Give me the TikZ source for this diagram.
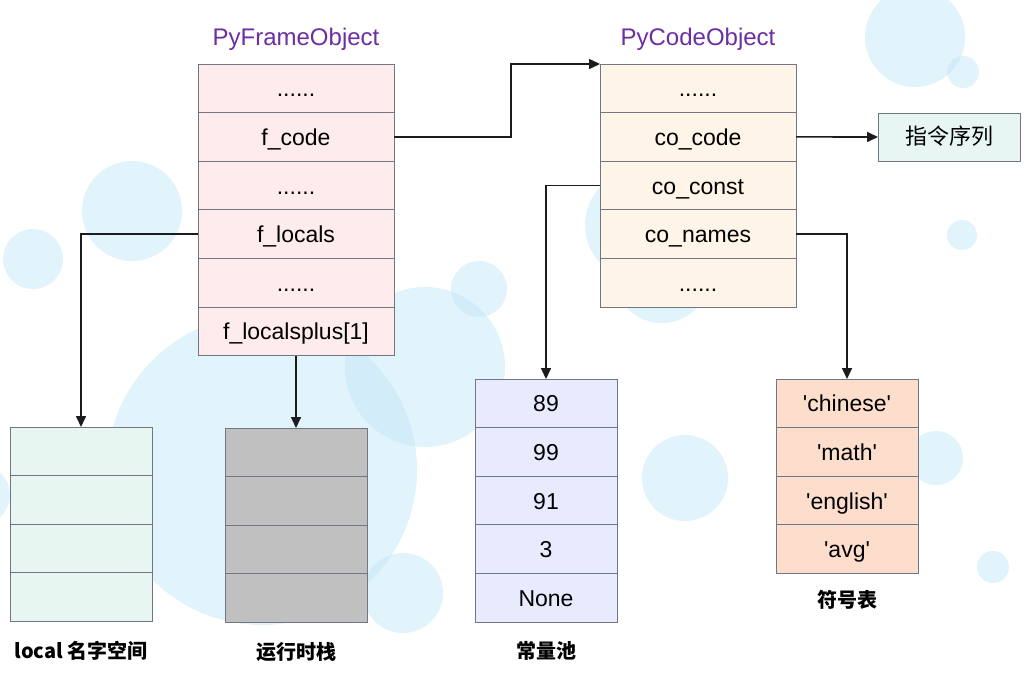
\documentclass[tikz,border=0pt]{standalone}
\usepackage{fontspec}
\usepackage{tikz}
\usetikzlibrary{arrows.meta, positioning}
\newfontfamily\codefont{Liberation Sans}
\newfontfamily\cjkfont{Noto Sans CJK SC}
\definecolor{bubblecolor}{RGB}{196,233,248}
\definecolor{cellline}{RGB}{112,118,132}
\definecolor{linkcolor}{RGB}{28,28,30}
\definecolor{titlecolor}{RGB}{108,46,162}
\definecolor{framefill}{RGB}{254,236,236}
\definecolor{codefill}{RGB}{254,245,232}
\definecolor{instrfill}{RGB}{231,245,243}
\definecolor{localfill}{RGB}{232,246,242}
\definecolor{stackfill}{RGB}{192,192,192}
\definecolor{constfill}{RGB}{232,234,253}
\definecolor{namefill}{RGB}{253,222,204}
\tikzset{cell/.style={draw=cellline, line width=0.9pt, minimum width=196pt, minimum height=48.6pt, inner sep=0pt, outer sep=0pt, text height=19pt, text depth=2pt, font=\codefont\fontsize{23}{26}\selectfont}}
\tikzset{narrow cell/.style={cell, minimum width=142pt}}
\tikzset{link/.style={draw=linkcolor, line width=1.6pt, -{Triangle[length=11pt,width=10pt]}}}
\tikzset{title/.style={text=titlecolor, font=\codefont\fontsize{24}{28}\selectfont}}
\tikzset{caption/.style={font=\cjkfont\bfseries\fontsize{20}{24}\selectfont}}
\tikzset{bubble/.style={fill=bubblecolor, fill opacity=0.5}}

\begin{document}
\begin{tikzpicture}[x=1pt, y=-1pt]
    \useasboundingbox (0,0) rectangle (1030,686);
    \fill[white] (0,0) rectangle (1030,686);
    \clip (0,0) rectangle (1030,686);
    % background bubbles
    \fill[bubble] (915,37) circle (50);
    \fill[bubble] (963,72) circle (16);
    \fill[bubble] (132,211) circle (50);
    \fill[bubble] (33,259) circle (30);
    \fill[bubble] (-20,495) circle (30);
    \fill[bubble] (262,470) circle (155);
    \fill[bubble] (425,367) circle (80);
    \fill[bubble] (479,289) circle (28);
    \fill[bubble] (403,593) circle (40);
    \fill[bubble] (640,225) circle (55);
    \fill[bubble] (662,275) circle (48);
    \fill[bubble] (685,478) circle (43);
    \fill[bubble] (936,458) circle (27);
    \fill[bubble] (993,567) circle (16);
    \fill[bubble] (962,235) circle (15);

    % PyFrameObject
    \node[cell, fill=framefill, anchor=north west] (fr1) at (198,64) {......};
    \node[cell, fill=framefill, below=0pt of fr1] (fr2) {f\_code};
    \node[cell, fill=framefill, below=0pt of fr2] (fr3) {......};
    \node[cell, fill=framefill, below=0pt of fr3] (fr4) {f\_locals};
    \node[cell, fill=framefill, below=0pt of fr4] (fr5) {......};
    \node[cell, fill=framefill, below=0pt of fr5] (fr6) {f\_localsplus[1]};
    \node[title, above=10pt of fr1] (frtitle) {PyFrameObject};

    % PyCodeObject
    \node[cell, fill=codefill, anchor=north west] (co1) at (600,64) {......};
    \node[cell, fill=codefill, below=0pt of co1] (co2) {co\_code};
    \node[cell, fill=codefill, below=0pt of co2] (co3) {co\_const};
    \node[cell, fill=codefill, below=0pt of co3] (co4) {co\_names};
    \node[cell, fill=codefill, below=0pt of co4] (co5) {......};
    \node[title, above=10pt of co1] (cotitle) {PyCodeObject};

    \node[narrow cell, fill=instrfill, minimum height=48pt, anchor=north west, text height=17pt, text depth=3pt, font=\cjkfont\fontsize{22}{26}\selectfont] (instr) at (878,113) {指令序列};

    % local namespace
    \node[narrow cell, fill=localfill, anchor=north west] (loc1) at (10,427) {};
    \node[narrow cell, fill=localfill, below=0pt of loc1] (loc2) {};
    \node[narrow cell, fill=localfill, below=0pt of loc2] (loc3) {};
    \node[narrow cell, fill=localfill, below=0pt of loc3] (loc4) {};
    \node[caption, below=16pt of loc4] (loclabel) {local 名字空间};

    % value stack
    \node[narrow cell, fill=stackfill, anchor=north west] (stk1) at (225,428) {};
    \node[narrow cell, fill=stackfill, below=0pt of stk1] (stk2) {};
    \node[narrow cell, fill=stackfill, below=0pt of stk2] (stk3) {};
    \node[narrow cell, fill=stackfill, below=0pt of stk3] (stk4) {};
    \node[caption, below=16pt of stk4] (stklabel) {运行时栈};

    % constants
    \node[narrow cell, fill=constfill, anchor=north west] (cst1) at (475,379) {89};
    \node[narrow cell, fill=constfill, below=0pt of cst1] (cst2) {99};
    \node[narrow cell, fill=constfill, below=0pt of cst2] (cst3) {91};
    \node[narrow cell, fill=constfill, below=0pt of cst3] (cst4) {3};
    \node[narrow cell, fill=constfill, below=0pt of cst4] (cst5) {None};
    \node[caption, below=16pt of cst5] (cstlabel) {常量池};

    % names
    \node[narrow cell, fill=namefill, anchor=north west] (nm1) at (776,379) {'chinese'};
    \node[narrow cell, fill=namefill, below=0pt of nm1] (nm2) {'math'};
    \node[narrow cell, fill=namefill, below=0pt of nm2] (nm3) {'english'};
    \node[narrow cell, fill=namefill, below=0pt of nm3] (nm4) {'avg'};
    \node[caption, below=13pt of nm4] (nmlabel) {符号表};

    % links
    \draw[link] (fr2.east) -- ++(117,0) |- (co1.north west);
    \draw[link] (co2.east) -- (instr.west);
    \draw[link] (co3.west) -| (cst1.north);
    \draw[link] (co4.east) -| (nm1.north);
    \draw[link] (fr4.west) -| (loc1.north);
    \draw[link] (fr6.south) -- (stk1.north);
\end{tikzpicture}
\end{document}
